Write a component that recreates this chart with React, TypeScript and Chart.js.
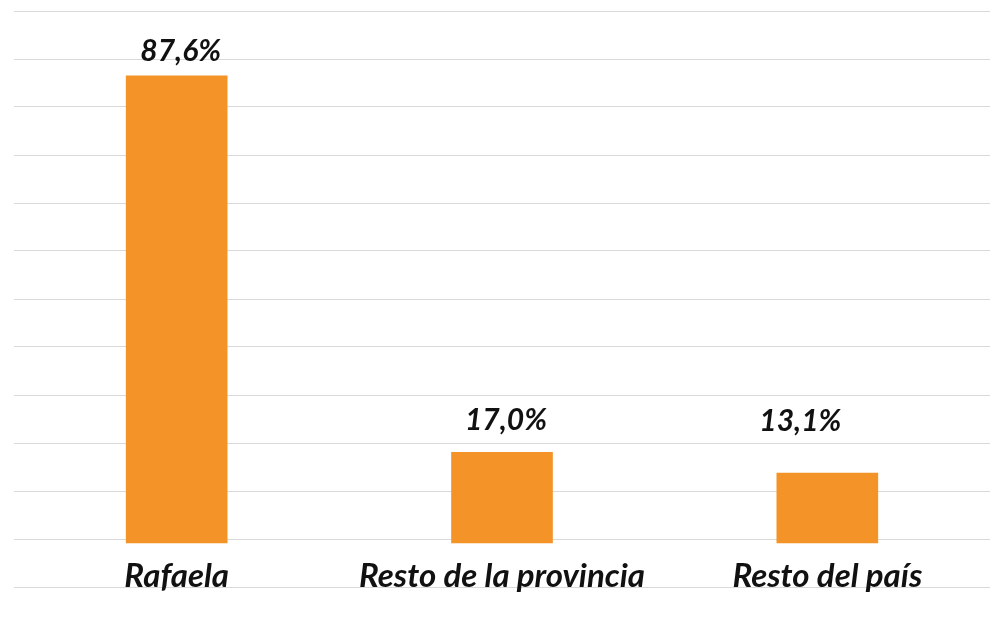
import React, { useEffect, useRef } from "react";
import { Chart, registerables } from "chart.js";

Chart.register(...registerables);

const categories = ["Rafaela", "Resto de la provincia", "Resto del país"];
const values = [87.6, 17.0, 13.1];
const valueLabels = ["87,6%", "17,0%", "13,1%"];

const BAR_COLOR = "#F49327";
const GRID_COLOR = "#d9d9d9";
const FONT_FAMILY = "Lato, 'Open Sans', sans-serif";

// label placement tweaks (dx, dy in px relative to bar top-center)
const labelOffsets = [
  { dx: 4, dy: -15 },
  { dx: 4, dy: -22 },
  { dx: -27, dy: -42 },
];

const Y_MIN = -8.25;
const Y_STEP = 9;
const Y_COUNT = 12;

const labelPlugin = {
  id: "customLabels",
  afterDatasetsDraw(chart: any) {
    const ctx = chart.ctx;
    const meta = chart.getDatasetMeta(0);
    const xScale = chart.scales.x;
    const yScale = chart.scales.y;
    ctx.save();
    ctx.fillStyle = "#111111";
    ctx.textAlign = "center";
    ctx.textBaseline = "alphabetic";
    meta.data.forEach((bar: any, i: number) => {
      const off = labelOffsets[i] || { dx: 0, dy: -20 };
      ctx.font = `italic bold 30px ${FONT_FAMILY}`;
      ctx.fillText(valueLabels[i], bar.x + off.dx, bar.y + off.dy);
    });
    categories.forEach((c, i) => {
      ctx.font = `italic bold 33px ${FONT_FAMILY}`;
      const x = xScale.getPixelForValue(i);
      const y = yScale.getPixelForValue(Y_MIN);
      ctx.fillText(c, x, y);
    });
    ctx.restore();
  },
};

export default function App() {
  const canvasRef = useRef<HTMLCanvasElement | null>(null);

  useEffect(() => {
    if (!canvasRef.current) return;
    const chart = new Chart(canvasRef.current, {
      type: "bar",
      data: {
        labels: categories,
        datasets: [
          {
            data: values,
            backgroundColor: BAR_COLOR,
            borderWidth: 0,
            barThickness: 101,
          },
        ],
      },
      options: {
        animation: false,
        responsive: true,
        maintainAspectRatio: false,
        layout: { padding: { left: 14, top: 11, right: -7, bottom: 46 } },
        plugins: {
          legend: { display: false },
          tooltip: { enabled: false },
        },
        scales: {
          x: {
            display: false,
          },
          y: {
            min: Y_MIN,
            max: Y_MIN + Y_STEP * Y_COUNT,
            afterBuildTicks(scale: any) {
              const t = [];
              for (let k = 0; k <= Y_COUNT; k++) t.push({ value: Y_MIN + Y_STEP * k });
              scale.ticks = t;
            },
            ticks: { display: false },
            border: { display: false },
            grid: { color: GRID_COLOR, lineWidth: 1, drawTicks: false },
          },
        },
      },
      plugins: [labelPlugin],
    });
    return () => chart.destroy();
  }, []);

  return (
    <div style={{ position: "fixed", left: 0, top: 0, width: 990, height: 633, background: "#fff" }}>
      <canvas ref={canvasRef} />
    </div>
  );
}
